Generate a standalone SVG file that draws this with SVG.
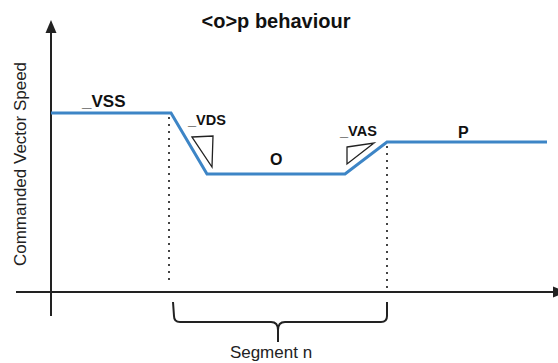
<svg xmlns="http://www.w3.org/2000/svg" width="558" height="363" viewBox="0 0 558 363">
<style>
.ax{stroke:#222;stroke-width:2;fill:none}
.dot{stroke:#444;stroke-width:2;stroke-dasharray:2 5;fill:none}
.spd{stroke:#3d85c6;stroke-width:3;fill:none;stroke-linejoin:miter}
.tri{stroke:#222;stroke-width:1.3;fill:#fff}
.b{font-family:"Liberation Sans",Arial,sans-serif;font-weight:bold;fill:#111}
.r{font-family:"Liberation Sans",Arial,sans-serif;fill:#222}
</style>
<rect width="558" height="363" fill="#fff"/>
<g id="connectors">
<line class="ax" x1="51" y1="316" x2="51" y2="30"/>
<polygon points="51,20 45.5,33 56.5,33" fill="#222"/>
<line class="ax" x1="16" y1="292" x2="556" y2="292"/>
<polygon points="566,292 553,286.5 553,297.5" fill="#222"/>
<line class="dot" x1="169" y1="117" x2="169" y2="284"/>
<line class="dot" x1="387" y1="146" x2="387" y2="289"/>
<polyline class="spd" points="51,113 171,113 207,174 345,174 387,142 547,142"/>
<path class="ax" d="M173,302 L174,316 Q174,322 180,322 L271,322 Q278,322 278,330 L278,342 M278,330 Q278,322 285,322 L381,322 Q387,322 387,316 L387,302"/>
</g>
<g id="triangles">
<polygon class="tri" points="192,137 213,136 212,167"/>
<polygon class="tri" points="347,147 374,143 347,164"/>
</g>
<g id="labels">
<text class="b" x="276" y="28" font-size="20" text-anchor="middle">&lt;o&gt;p behaviour</text>
<text class="r" font-size="17" text-anchor="middle" transform="translate(26,164) rotate(-90)">Commanded Vector Speed</text>
<text class="b" x="82" y="107" font-size="17">_VSS</text>
<text class="b" x="188" y="125" font-size="14.5">_VDS</text>
<text class="b" x="340" y="136" font-size="14.5">_VAS</text>
<text class="b" x="270" y="165" font-size="16">O</text>
<text class="b" x="458" y="138" font-size="16">P</text>
<text class="r" x="271" y="358" font-size="17" text-anchor="middle">Segment n</text>
</g>
</svg>
